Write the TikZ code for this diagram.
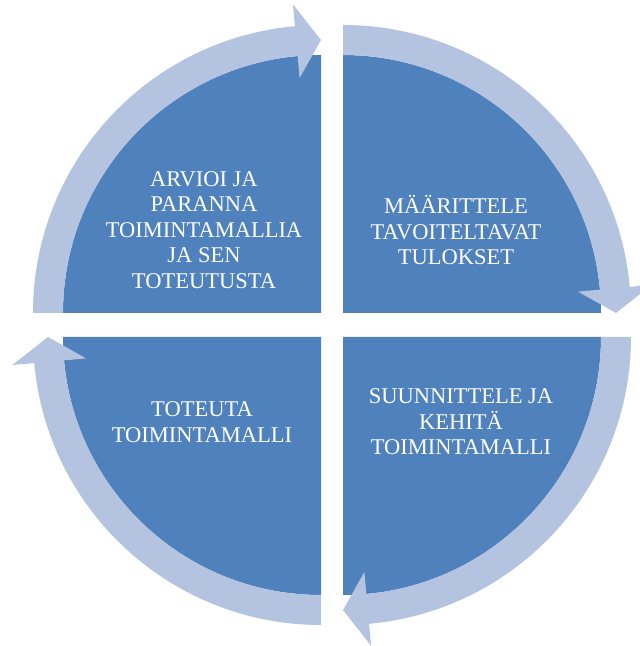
\documentclass[tikz,border=0pt]{standalone}
\usepackage{fontspec}
\setmainfont{Liberation Serif}
\definecolor{secblue}{HTML}{4F81BD}
\definecolor{ringblue}{HTML}{B4C4E0}
\tikzset{
  sector/.style={fill=secblue, draw=none},
  ring/.style={fill=ringblue, draw=none},
  label/.style={text=white, align=center, font=\fontsize{22.5}{25.5}\selectfont},
}
% #1 corner, #2 tail angle, #3 tip angle (clockwise)
\newcommand{\cyclearrow}[3]{%
  \fill[ring] ($(#1)+(#2:288)$) arc[start angle=#2, end angle={#3+5.2}, radius=288]
    -- ($(#1)+({#3+5.2}:310)$) -- ($(#1)+(#3:273)$) -- ($(#1)+({#3+5.2}:236)$)
    -- ($(#1)+({#3+5.2}:258)$) arc[start angle={#3+5.2}, end angle=#2, radius=258] -- cycle;}
\usetikzlibrary{calc}
\begin{document}
\begin{tikzpicture}[x=1pt,y=1pt]
\useasboundingbox (0,0) rectangle (640,646);
\clip (0,0) rectangle (640,646);
\coordinate (tr) at (343,333);
\coordinate (tl) at (321,333);
\coordinate (bl) at (321,309);
\coordinate (br) at (343,309);
\fill[sector] (tr) -- ++(0:258) arc[start angle=0, end angle=90, radius=258] -- cycle;
\fill[sector] (tl) -- ++(90:258) arc[start angle=90, end angle=180, radius=258] -- cycle;
\fill[sector] (bl) -- ++(180:258) arc[start angle=180, end angle=270, radius=258] -- cycle;
\fill[sector] (br) -- ++(270:258) arc[start angle=270, end angle=360, radius=258] -- cycle;
\cyclearrow{tr}{90}{0}
\cyclearrow{br}{0}{-90}
\cyclearrow{bl}{-90}{-180}
\cyclearrow{tl}{180}{90}
\node[label] (t1) at (204,416) {ARVIOI JA\\PARANNA\\TOIMINTAMALLIA\\JA SEN\\TOTEUTUSTA};
\node[label] (t2) at (456,416) {MÄÄRITTELE\\TAVOITELTAVAT\\TULOKSET};
\node[label] (t3) at (461,224) {SUUNNITTELE JA\\KEHITÄ\\TOIMINTAMALLI};
\node[label] (t4) at (202,224) {TOTEUTA\\TOIMINTAMALLI};
\end{tikzpicture}
\end{document}
